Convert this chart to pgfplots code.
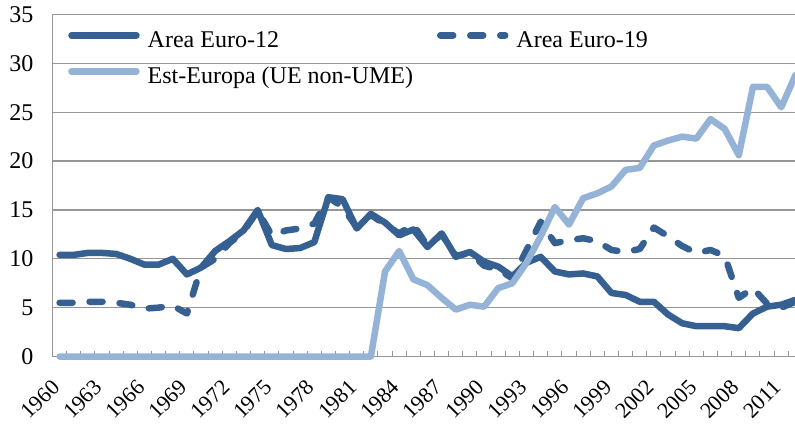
\documentclass[border=0pt]{standalone}
\usepackage{fontspec}
\setmainfont{Liberation Serif}
\usepackage{pgfplots}
\usepackage{pgfplotstable}
\pgfplotsset{compat=1.18}
\definecolor{darkblue}{RGB}{54,96,146}
\definecolor{lightblue}{RGB}{149,179,215}
\definecolor{gridgray}{RGB}{150,150,150}
\pgfplotstableread{
year e12 e19 ee
1960 10.4 5.5 0
1961 10.4 5.5 0
1962 10.6 5.6 0
1963 10.6 5.6 0
1964 10.5 5.5 0
1965 10.0 5.3 0
1966 9.4 4.9 0
1967 9.4 5.0 0
1968 10.0 5.2 0
1969 8.4 4.4 0
1970 9.1 9.1 0
1971 10.8 10.0 0
1972 11.8 11.6 0
1973 12.9 12.8 0
1974 15.0 14.9 0
1975 11.4 12.4 0
1976 11.0 12.9 0
1977 11.1 13.1 0
1978 11.7 13.6 0
1979 16.3 16.3 0
1980 16.1 15.3 0
1981 13.1 13.2 0
1982 14.6 14.5 0
1983 13.7 13.5 8.7
1984 12.4 12.6 10.8
1985 13.0 13.5 7.9
1986 11.2 11.3 7.3
1987 12.6 12.5 6.0
1988 10.2 10.3 4.8
1989 10.7 10.6 5.3
1990 9.7 9.3 5.1
1991 9.2 8.9 7.0
1992 8.2 8.0 7.5
1993 9.6 10.9 9.6
1994 10.2 13.8 12.3
1995 8.7 11.6 15.3
1996 8.4 11.9 13.5
1997 8.5 12.1 16.2
1998 8.2 11.8 16.7
1999 6.5 10.9 17.4
2000 6.3 10.7 19.1
2001 5.6 11.0 19.3
2002 5.6 13.2 21.6
2003 4.3 12.3 22.1
2004 3.4 11.3 22.5
2005 3.1 10.6 22.3
2006 3.1 10.9 24.3
2007 3.1 10.3 23.3
2008 2.9 6.0 20.6
2009 4.4 7.0 27.6
2010 5.1 5.4 27.6
2011 5.3 5.0 25.5
2012 5.8 5.6 28.8
}\data
\begin{document}
\begin{tikzpicture}
\path[use as bounding box] (-52.5pt,-67.5pt) rectangle (742.5pt,356.5pt);
\begin{axis}[
  at={(0,0)}, anchor=south west,
  scale only axis,
  width=742.9pt, height=342pt,
  xmin=1959.5, xmax=2012,
  ymin=0, ymax=35,
  clip=false,
  axis x line=bottom, axis y line=left,
  axis line style={gridgray, line width=1.2pt, -},
  ytick={0,5,...,35},
  ymajorgrids,
  grid style={gridgray, line width=1.2pt},
  xtick={1960,1963,...,2011},
  minor xtick={1960.5,1961.5,...,2011.5},
  major tick length=0pt,
  minor tick length=6pt,
  tick align=inside,
  minor tick style={gridgray, line width=1pt},
  xticklabel style={font=\fontsize{22}{26}\selectfont, xshift=-3.5pt, yshift=-27pt, rotate=45, anchor=east, inner sep=0pt},
  yticklabel style={font=\fontsize{24}{28}\selectfont, anchor=east, inner sep=0pt, xshift=-19pt},
  /pgf/number format/assume math mode=true,
  /pgf/number format/1000 sep={},
  legend columns=2,
  legend cell align=left,
  legend style={draw=none, fill=none, at={(axis description cs:0.0209,0.95)}, anchor=north west,
    font=\fontsize{24}{28}\selectfont, inner sep=0pt, column sep=8pt, row sep=15pt,
    nodes={inner sep=0pt, text height=16pt, text depth=5pt},
    /tikz/column 2/.style={column sep=24pt}},
  legend image code/.code={\draw[#1] (3.5pt,7pt) -- (68.5pt,7pt);},
]
\addplot[darkblue, line width=6.5pt, line cap=round, line join=round] table[x=year, y=e12] {\data};
\addlegendentry{Area Euro-12}
\addplot[darkblue, line width=6.5pt, line cap=round, line join=round, dash pattern=on 13pt off 17pt] table[x=year, y=e19] {\data};
\addlegendentry{Area Euro-19}
\addplot[lightblue, line width=6.5pt, line cap=round, line join=round] table[x=year, y=ee] {\data};
\addlegendentry{Est-Europa (UE non-UME)}
\end{axis}
\end{tikzpicture}
\end{document}
